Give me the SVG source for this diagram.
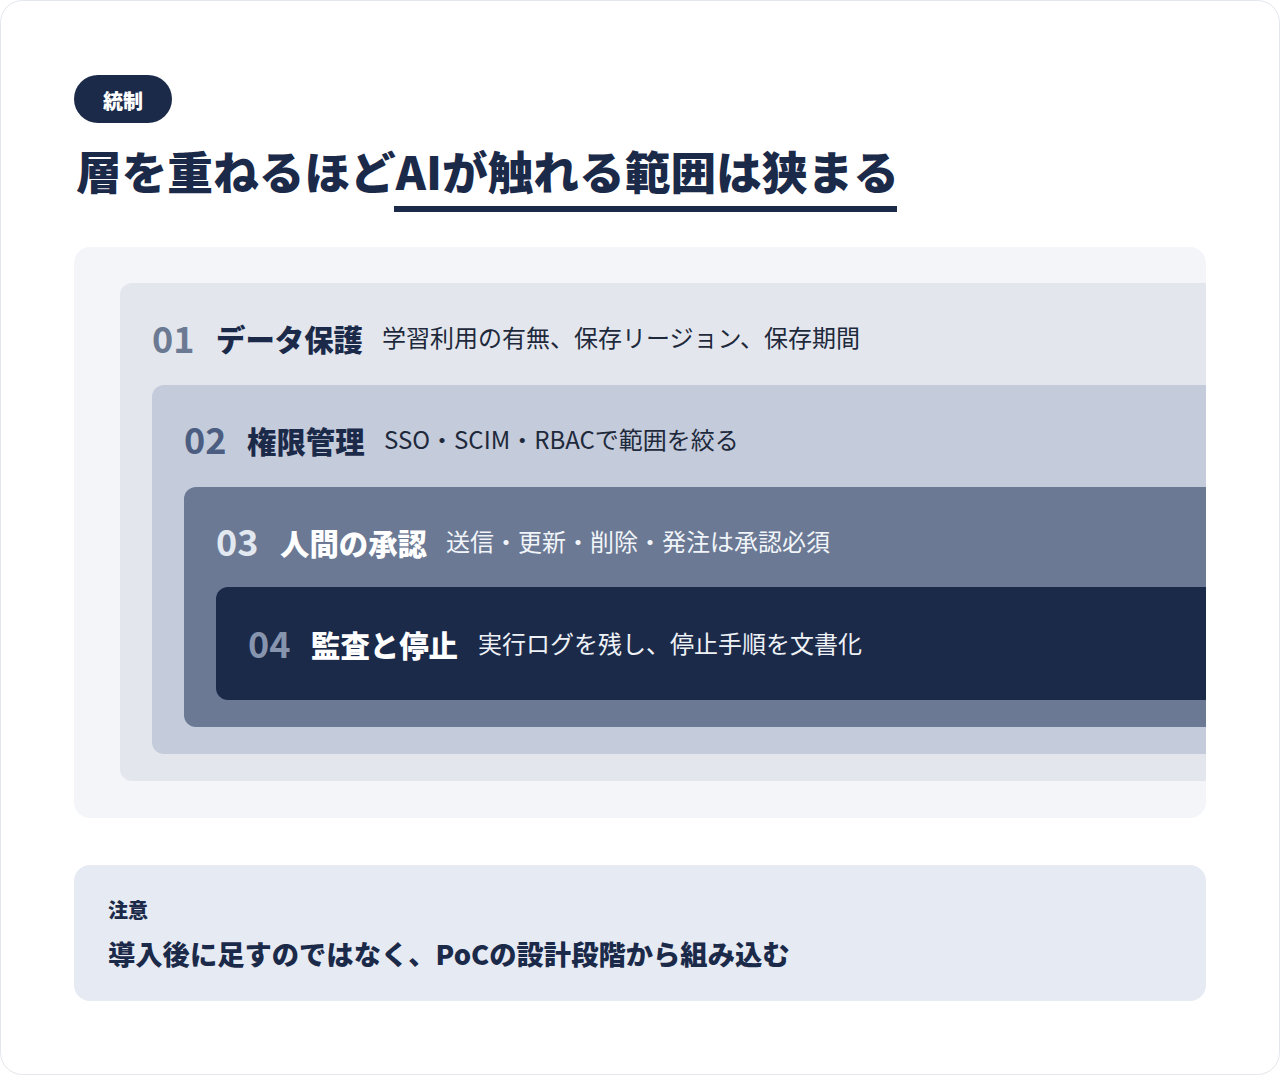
<svg xmlns="http://www.w3.org/2000/svg" width="1280" height="1075" viewBox="0 0 1280 1075">
<style>
text{font-family:"Noto Sans CJK JP","Noto Sans",sans-serif;}
.b{font-weight:700;}
.k{font-weight:900;}
.num{font-size:36px;font-weight:700;}
.ttl{font-size:29.4px;font-weight:900;}
.dsc{font-size:24px;font-weight:400;}
</style>
<defs>
<clipPath id="panelClip"><rect x="74" y="247" width="1132" height="571" rx="16"/></clipPath>
</defs>
<rect x="0.5" y="0.5" width="1279" height="1074" rx="22" fill="#ffffff" stroke="#e3e6ec" stroke-width="1"/>
<g id="tag">
<rect x="74" y="75" width="98" height="48" rx="24" fill="#1c2a4a"/>
<text x="123" y="109" text-anchor="middle" class="k" font-size="20" fill="#ffffff">統制</text>
</g>
<g id="title">
<text x="76" y="190" class="k" font-size="45.7" fill="#1c2a4a">層を重ねるほどAIが触れる範囲は狭まる</text>
<rect x="394" y="206" width="503" height="6" fill="#1c2a4a"/>
</g>
<g id="panel">
<rect x="74" y="247" width="1132" height="571" rx="16" fill="#f3f5f9"/>
<g clip-path="url(#panelClip)">
<g id="layer1">
<rect x="120" y="283" width="1110" height="498" rx="12" fill="#e3e7ed"/>
<text x="152" y="353" class="num" fill="#6b7a92">01</text>
<text x="216" y="351" class="ttl" fill="#1c2a4a">データ保護</text>
<text x="382" y="347" class="dsc" fill="#1e293b">学習利用の有無、保存リージョン、保存期間</text>
</g>
<g id="layer2">
<rect x="152" y="385" width="1080" height="369" rx="12" fill="#c4cbda"/>
<text x="184" y="454" class="num" fill="#4b5d80">02</text>
<text x="247" y="453" class="ttl" fill="#1c2a4a">権限管理</text>
<text x="384" y="449" class="dsc" fill="#1e293b">SSO・SCIM・RBACで範囲を絞る</text>
</g>
<g id="layer3">
<rect x="184" y="487" width="1050" height="240" rx="12" fill="#6b7994"/>
<text x="216" y="556" class="num" fill="#e2e8f0">03</text>
<text x="280" y="555" class="ttl" fill="#ffffff">人間の承認</text>
<text x="446" y="551" class="dsc" fill="#f1f5f9">送信・更新・削除・発注は承認必須</text>
</g>
<g id="layer4">
<rect x="216" y="587" width="1020" height="113" rx="12" fill="#1c2a4a"/>
<text x="248" y="658" class="num" fill="#8794ad">04</text>
<text x="311" y="657" class="ttl" fill="#ffffff">監査と停止</text>
<text x="478" y="653" class="dsc" fill="#eef2f7">実行ログを残し、停止手順を文書化</text>
</g>
</g>
</g>
<g id="note">
<rect x="74" y="865" width="1132" height="136" rx="16" fill="#e6ebf3"/>
<text x="108" y="918" class="k" font-size="20" fill="#1c2a4a">注意</text>
<text x="108" y="965" class="k" font-size="27.3" fill="#1c2a4a">導入後に足すのではなく、PoCの設計段階から組み込む</text>
</g>
<g id="connectors"></g>
</svg>
